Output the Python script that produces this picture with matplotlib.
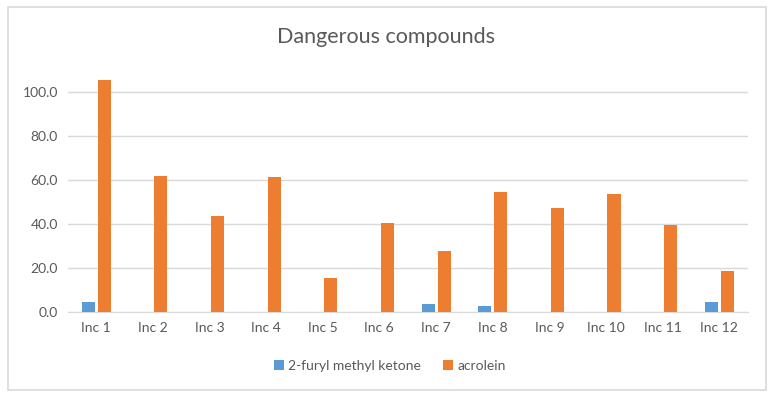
import numpy as np
import matplotlib
matplotlib.use("Agg")
import matplotlib.pyplot as plt
from matplotlib.patches import Rectangle

# data
categories = ["Inc 1", "Inc 2", "Inc 3", "Inc 4", "Inc 5", "Inc 6",
              "Inc 7", "Inc 8", "Inc 9", "Inc 10", "Inc 11", "Inc 12"]
furyl = [4.5, 0, 0, 0, 0, 0, 3.8, 3.0, 0, 0, 0, 4.8]
acrolein = [105.4, 61.7, 43.9, 61.3, 15.4, 40.5, 27.8, 54.5, 47.2, 53.7, 39.8, 18.7]
yticks = [0, 20, 40, 60, 80, 100]

plt.rcParams['font.family'] = ['Lato', 'DejaVu Sans']
grey = '#595959'

fig = plt.figure(figsize=(7.74, 3.98), dpi=100)
ax = fig.add_axes([0.0875, 0.2153, 0.8785, 0.609])

x = np.arange(len(categories))
w = 0.23
ax.bar(x - 0.141, furyl, w, color='#5B9BD5', label='2-furyl methyl ketone', zorder=3)
ax.bar(x + 0.141, acrolein, w, color='#ED7D31', label='acrolein', zorder=3)

ax.set_xlim(-0.5, len(categories) - 0.5)
ax.set_ylim(0, 110)
ax.set_yticks(yticks)
ax.set_yticklabels(['%.1f' % v for v in yticks], color=grey, fontsize=10)
ax.set_xticks(x)
ax.set_xticklabels(categories, color=grey, fontsize=10)
ax.tick_params(length=0, pad=7)
ax.grid(axis='y', color='#d9d9d9', linewidth=1, zorder=0)
for s in ['top', 'right', 'left']:
    ax.spines[s].set_visible(False)
ax.spines['bottom'].set_color('#d9d9d9')

fig.text(0.4987, 0.907, 'Dangerous compounds', ha='center', va='center',
         fontsize=15.5, color=grey)
fig.legend(loc='center', bbox_to_anchor=(0.504, 0.081), ncol=2, frameon=False,
           fontsize=10, labelcolor=grey, handlelength=0.7, handleheight=0.7,
           columnspacing=1.6, handletextpad=0.3)

# chart border
fig.patches.append(Rectangle((8 / 774, 1 - 390 / 398), 758 / 774, 383 / 398,
                             transform=fig.transFigure, fill=False,
                             edgecolor='#d9d9d9', linewidth=1.2))

fig.savefig('out.png', dpi=100)
